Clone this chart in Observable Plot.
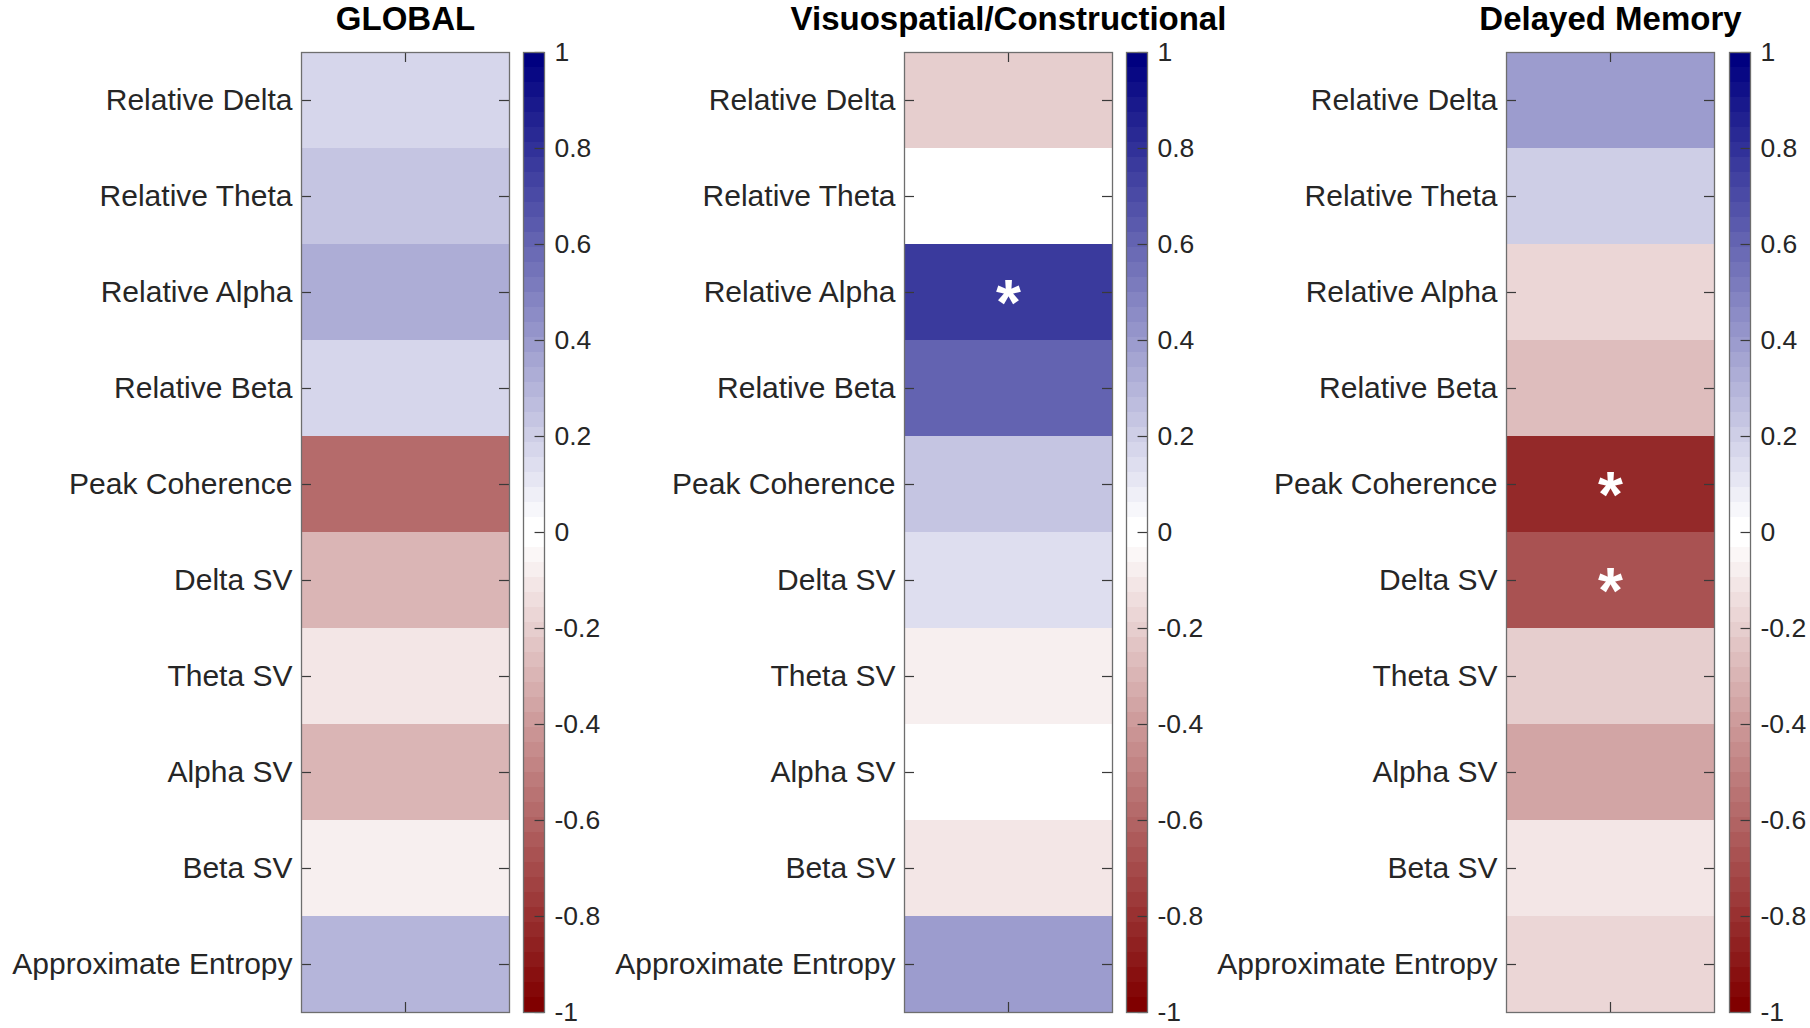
<!DOCTYPE html>
<html><head><meta charset="utf-8">
<script src="https://cdn.jsdelivr.net/npm/d3@7"></script>
<script src="https://cdn.jsdelivr.net/npm/@observablehq/plot@0.6"></script>
<style>
html,body{margin:0;padding:0;background:#fff;}
#chart{position:relative;width:1810px;height:1028px;overflow:hidden;background:#fff;}
#chart svg{position:absolute;top:0;}
</style></head><body><div id="chart"></div>
<script>
// ---- data ----
const features = ["Relative Delta","Relative Theta","Relative Alpha","Relative Beta","Peak Coherence",
  "Delta SV","Theta SV","Alpha SV","Beta SV","Approximate Entropy"];
const panelTitles = ["GLOBAL","Visuospatial/Constructional","Delayed Memory"];
const globalValues = [0.16, 0.23, 0.32, 0.16, -0.57, -0.29, -0.11, -0.30, -0.08, 0.29];
const visuoValues  = [-0.21, 0.0, 0.77, 0.60, 0.22, 0.13, -0.08, 0.0, -0.12, 0.38];
const memoryValues = [0.38, 0.19, -0.17, -0.28, -0.84, -0.68, -0.21, -0.37, -0.11, -0.18];
const globalSig = [0,0,0,0,0,0,0,0,0,0];
const visuoSig  = [0,0,1,0,0,0,0,0,0,0];
const memorySig = [0,0,0,0,1,1,0,0,0,0];
const colorbarTicks = [-1,-0.8,-0.6,-0.4,-0.2,0,0.2,0.4,0.6,0.8,1];

// ---- colormap (64 levels, maroon - white - navy) ----
const nLevels = 64;
const cmap = d3.range(nLevels).map(i => i < nLevels/2
  ? d3.interpolateRgb("#800000", "#ffffff")(i / (nLevels/2 - 1))
  : d3.interpolateRgb("#ffffff", "#000080")((i - nLevels/2) / (nLevels/2 - 1)));
const thresholds = d3.range(1, nLevels).map(i => -1 + 2 * i / nLevels);
const colorScale = {type: "threshold", domain: thresholds, range: cmap};
const levels = d3.range(nLevels).map(i => ({y1: -1 + 2*i/nLevels, y2: -1 + 2*(i+1)/nLevels, v: -1 + 2*(i+0.5)/nLevels}));

const FONT = '"Liberation Sans", Arial, Helvetica, sans-serif';
const H = 1028, MT = 52, MB = 16;
const boxLeft = [301, 904, 1506], boxW = 208;
const cbLeft = [523, 1126, 1729], cbW = 21;
const panels = [
  {title: panelTitles[0], values: globalValues, sig: globalSig},
  {title: panelTitles[1], values: visuoValues, sig: visuoSig},
  {title: panelTitles[2], values: memoryValues, sig: memorySig}
];
const chart = document.getElementById("chart");
const idx = d3.range(1, features.length + 1);

panels.forEach((p, k) => {
  const rows = features.map((f, i) => ({f, i: i + 1, v: p.values[i], s: p.sig[i]}));
  const ML = 300, MR = 130;
  const hm = Plot.plot({
    width: ML + boxW + MR, height: H,
    marginLeft: ML, marginRight: MR, marginTop: MT, marginBottom: MB,
    style: {background: "transparent", overflow: "visible", fontFamily: FONT},
    x: {domain: [0, 1], axis: null},
    y: {domain: [0.5, features.length + 0.5], reverse: true, axis: null},
    color: colorScale,
    marks: [
      Plot.rect(rows, {x1: 0, x2: 1, y1: d => d.i - 0.5, y2: d => d.i + 0.5, fill: d => d.v}),
      Plot.ruleY(idx, {x1: 0, x2: 10/boxW, stroke: "#3a3a3a", strokeWidth: 1.2}),
      Plot.ruleY(idx, {x1: 1 - 10/boxW, x2: 1, stroke: "#3a3a3a", strokeWidth: 1.2}),
      Plot.ruleX([0.5], {y1: 0.5, y2: 0.5 + 10/96, stroke: "#3a3a3a", strokeWidth: 1.2}),
      Plot.ruleX([0.5], {y1: features.length + 0.5, y2: features.length + 0.5 - 10/96, stroke: "#3a3a3a", strokeWidth: 1.2}),
      Plot.frame({stroke: "#6e6e6e", strokeWidth: 1.3}),
      Plot.axisY({ticks: idx, tickFormat: i => features[i - 1], tickSize: 0, tickPadding: 9,
        fontSize: 30, fill: "#262626", anchor: "left"}),
      Plot.text(rows.filter(d => d.s), {x: 0.5, y: d => d.i, text: () => "*", fill: "white",
        fontSize: 64, fontWeight: "bold", dx: 0, dy: 12}),
      Plot.text([p.title], {frameAnchor: "top", lineAnchor: "bottom", dy: -23, fontSize: 33,
        fontWeight: "bold", fill: "black"})
    ]
  });
  hm.style.left = (boxLeft[k] - ML) + "px";
  chart.appendChild(hm);

  const CL = 2, CR = 70;
  const cb = Plot.plot({
    width: CL + cbW + CR, height: H,
    marginLeft: CL, marginRight: CR, marginTop: MT, marginBottom: MB,
    style: {background: "transparent", overflow: "visible", fontFamily: FONT},
    x: {domain: [0, 1], axis: null},
    y: {domain: [-1, 1], axis: null},
    color: colorScale,
    marks: [
      Plot.rect(levels, {x1: 0, x2: 1, y1: "y1", y2: "y2", fill: "v"}),
      Plot.ruleY(colorbarTicks, {x1: 0.55, x2: 1, stroke: "#3a3a3a", strokeWidth: 1.2}),
      Plot.frame({stroke: "#6e6e6e", strokeWidth: 1.3}),
      Plot.axisY({ticks: colorbarTicks, tickFormat: d => String(+d.toFixed(1)), tickSize: 0,
        tickPadding: 10, fontSize: 26.5, fill: "#262626", anchor: "right"})
    ]
  });
  cb.style.left = (cbLeft[k] - CL) + "px";
  chart.appendChild(cb);
});
</script></body></html>
